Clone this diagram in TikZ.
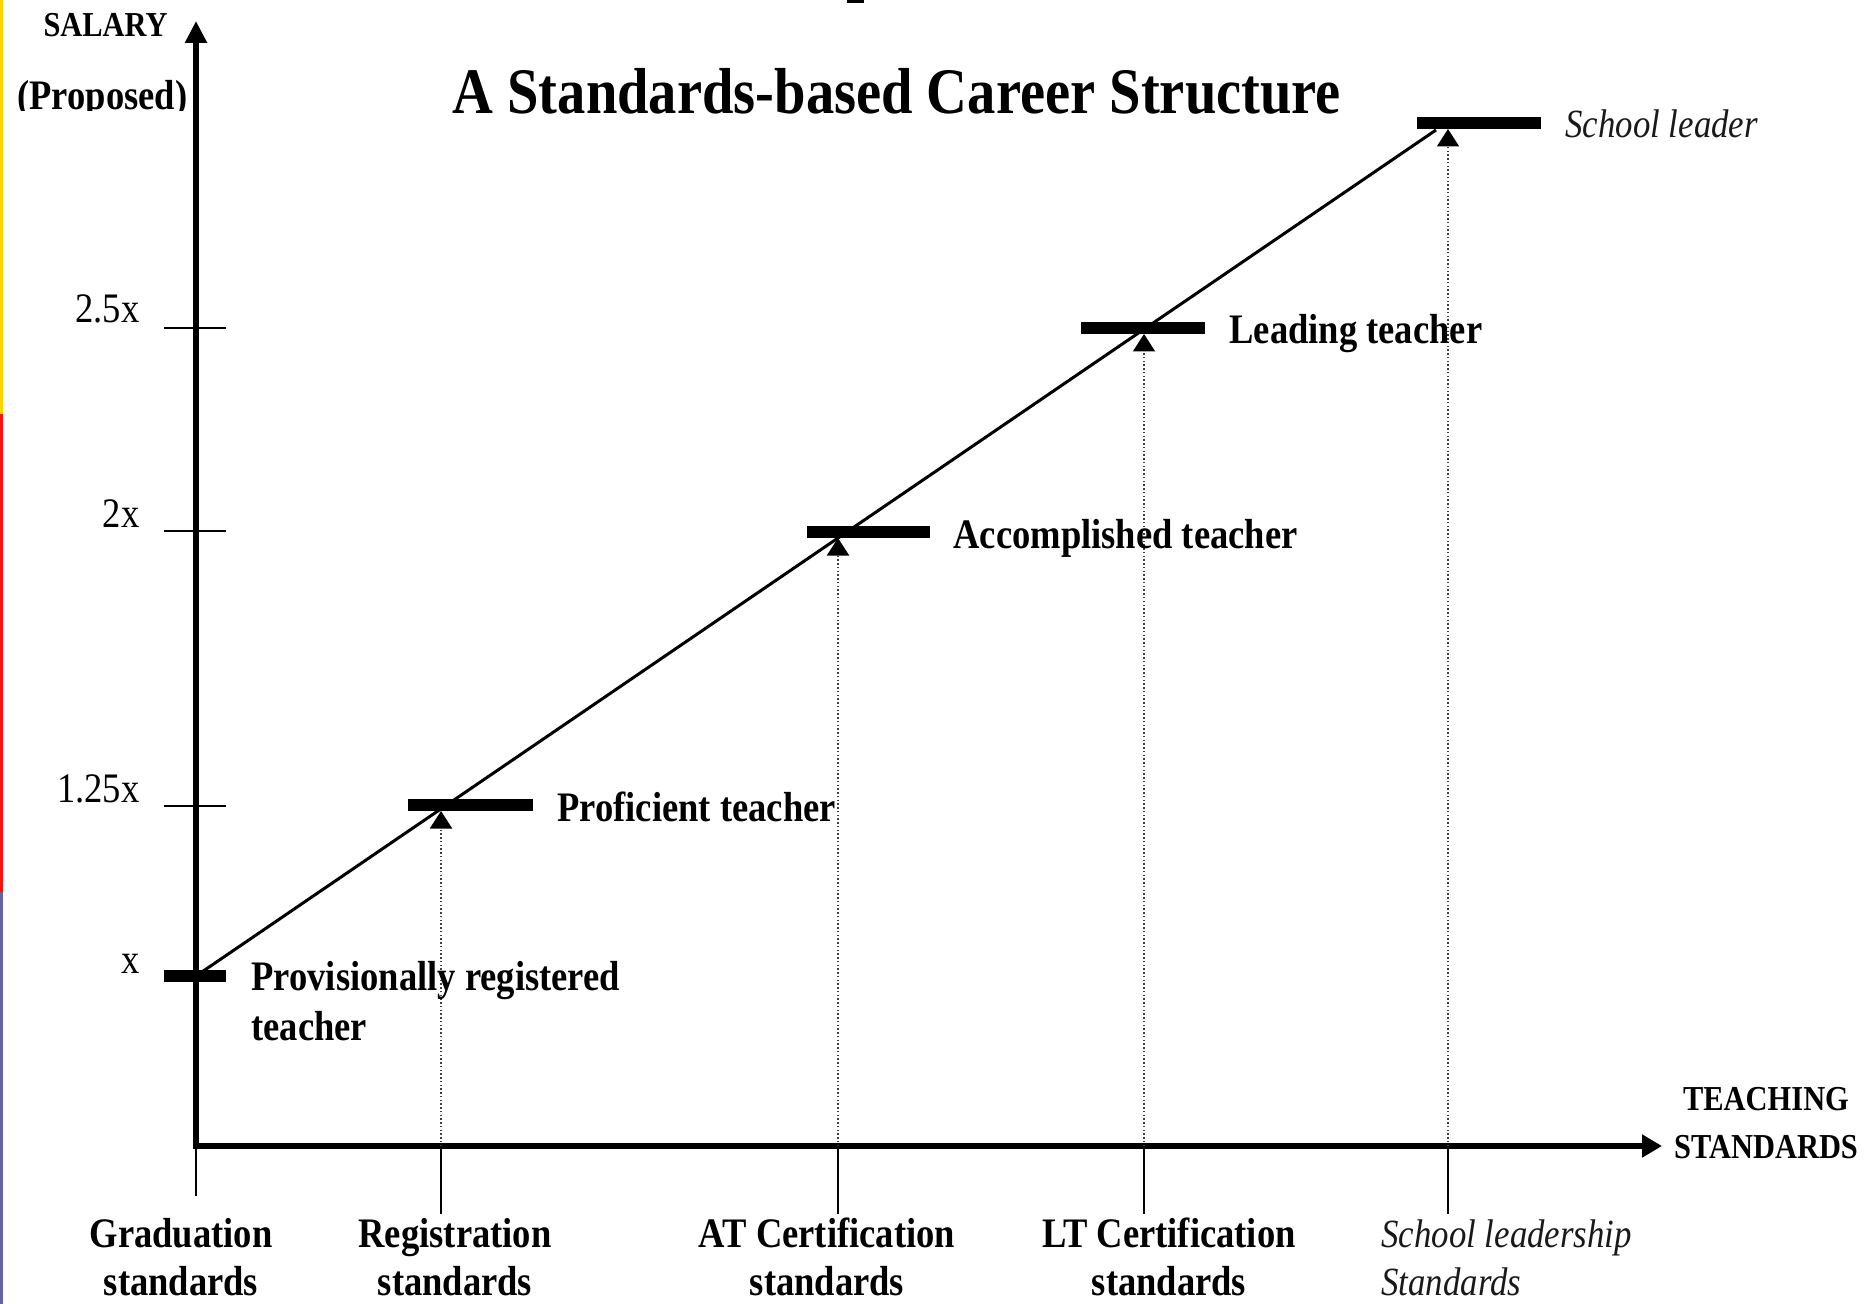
\documentclass[tikz,border=0pt]{standalone}
\usepackage{fontspec}
\setmainfont[FakeStretch=0.87]{Liberation Serif}
\usetikzlibrary{arrows.meta}
\definecolor{edgeyellow}{HTML}{FFD400}
\definecolor{edgered}{HTML}{FF1010}
\definecolor{edgeslate}{HTML}{6464A0}
\newcommand\lblfont{\fontsize{16.8}{19.2}\selectfont\bfseries}
\newcommand\lblfontwide{\fontsize{16.8}{20}\selectfont\bfseries}
\newcommand\itfont{\fontsize{16}{19.2}\selectfont\itshape}
\newcommand\axfont{\fontsize{14}{19.2}\selectfont\bfseries}
\newcommand\tickfont{\fontsize{16.8}{19.2}\selectfont}
\newcommand\twolinesc[2]{\begin{tabular}[t]{@{}c@{}}#1\\#2\end{tabular}}
\newcommand\twolinesl[2]{\begin{tabular}[t]{@{}l@{}}#1\\#2\end{tabular}}
\begin{document}
\begin{tikzpicture}[x=0.4pt,y=-0.4pt,
  axisline/.style={line width=2.4pt, line join=miter},
  ticka/.style={line width=0.8pt},
  levelbar/.style={line width=4.6pt},
  guide/.style={line width=0.8pt, black!75, dash pattern=on 0.6pt off 0.9pt},
  footline/.style={line width=0.8pt},
  careerline/.style={line width=1.2pt},
  lbl/.style={font=\lblfont, inner sep=0pt, anchor=base west},
  itlbl/.style={font=\itfont, inner sep=0pt, anchor=base west, text=black!90},
  ticklbl/.style={font=\tickfont, inner sep=0pt, anchor=base east},
  bottomlbl/.style={font=\lblfont, inner sep=0pt, anchor=base},
  smalltip/.style={-{Triangle[length=7pt,width=8.8pt,color=black]}}
]
\useasboundingbox (0,0) rectangle (1864,1304);
\fill[white] (0,0) rectangle (1864,1304);

% left edge strip
\fill[edgeyellow] (0,0) rectangle (2.5,414);
\fill[edgered] (0,414) rectangle (2.5,892);
\fill[edgeslate] (0,892) rectangle (2.5,1304);
% small mark at top
\fill (847,0) rectangle (864,3);

% axes
\coordinate (ytop) at (196,21);
\coordinate (origin) at (196,1146);
\coordinate (xend) at (1662,1146);
\draw[axisline, {Triangle[length=8.8pt,width=8.4pt]}-{Triangle[length=8pt,width=8.8pt]}] (ytop) -- (origin) -- (xend);

% y ticks
\coordinate (t25w) at (164,328); \coordinate (t25e) at (226,328);
\coordinate (t2w) at (164,531);  \coordinate (t2e) at (226,531);
\coordinate (t125w) at (164,806); \coordinate (t125e) at (226,806);
\draw[ticka] (t25w) -- (t25e);
\draw[ticka] (t2w) -- (t2e);
\draw[ticka] (t125w) -- (t125e);

% level bars
\coordinate (b0w) at (164,976);  \coordinate (b0e) at (226,976);
\coordinate (b1w) at (408,805);  \coordinate (b1e) at (533,805);
\coordinate (b2w) at (807,532);  \coordinate (b2e) at (930,532);
\coordinate (b3w) at (1081,328); \coordinate (b3e) at (1205,328);
\coordinate (b4w) at (1417,123); \coordinate (b4e) at (1541,123);
\draw[levelbar] (b0w) -- (b0e);
\draw[levelbar] (b1w) -- (b1e);
\draw[levelbar] (b2w) -- (b2e);
\draw[levelbar] (b3w) -- (b3e);
\draw[levelbar] (b4w) -- (b4e);

% career line
\coordinate (cstart) at (196,976);
\coordinate (cend) at (1436,130);
\draw[careerline] (cstart) -- (cend);

% guides: feet on axis, tips under bars, foot ends below axis
\coordinate (f1) at (441,1146);  \coordinate (a1) at (441,811);  \coordinate (e1) at (441,1214);
\coordinate (f2) at (838,1146);  \coordinate (a2) at (838,538);  \coordinate (e2) at (838,1214);
\coordinate (f3) at (1144,1146); \coordinate (a3) at (1144,334); \coordinate (e3) at (1144,1214);
\coordinate (f4) at (1448,1146); \coordinate (a4) at (1448,129); \coordinate (e4) at (1448,1214);
\coordinate (e0) at (196,1196);
\draw[guide, smalltip] (f1) -- (a1);
\draw[guide, smalltip] (f2) -- (a2);
\draw[guide, smalltip] (f3) -- (a3);
\draw[guide, smalltip] (f4) -- (a4);
\draw[footline] (origin) -- (e0);
\draw[footline] (f1) -- (e1);
\draw[footline] (f2) -- (e2);
\draw[footline] (f3) -- (e3);
\draw[footline] (f4) -- (e4);

% title
\node[font=\fontsize{26}{30}\selectfont\bfseries, inner sep=0pt, anchor=base west] (title) at (452,114) {A Standards-based Career Structure};

% axis labels
\node[font=\axfont, inner sep=0pt, anchor=base west] (salary) at (43,37) {SALARY};
\begin{scope}
\clip (0,60) rectangle (194,111);
\node[lbl] (proposed) at (17,110) {(Proposed)};
\end{scope}
\node[font=\axfont, inner sep=0pt, anchor=base] (tstd) at (1766,1110) {\twolinesc{TEACHING}{STANDARDS}};

% tick labels
\node[ticklbl] (l25) at (140,323) {2.5x};
\node[ticklbl] (l2) at (140,527) {2x};
\node[ticklbl] (l125) at (140,802) {1.25x};
\node[ticklbl] (l1) at (140,973) {x};

% level labels
\node[font=\lblfontwide, inner sep=0pt, anchor=base west] (prov) at (251,990) {\twolinesl{Provisionally registered}{teacher}};
\node[lbl] (prof) at (557,821) {Proficient teacher};
\node[lbl] (accom) at (953,548) {Accomplished teacher};
\node[lbl] (lead) at (1229,344) {Leading teacher};
\node[itlbl] (sleader) at (1565,138) {School leader};

% bottom labels
\node[bottomlbl] (grad) at (181,1247) {\twolinesc{Graduation}{standards}};
\node[bottomlbl] (reg) at (455,1247) {\twolinesc{Registration}{standards}};
\node[bottomlbl] (atc) at (827,1247) {\twolinesc{AT Certification}{standards}};
\node[bottomlbl] (ltc) at (1169,1247) {\twolinesc{LT Certification}{standards}};
\node[itlbl] (sls) at (1381,1247) {\twolinesl{School leadership}{Standards}};
\end{tikzpicture}
\end{document}
